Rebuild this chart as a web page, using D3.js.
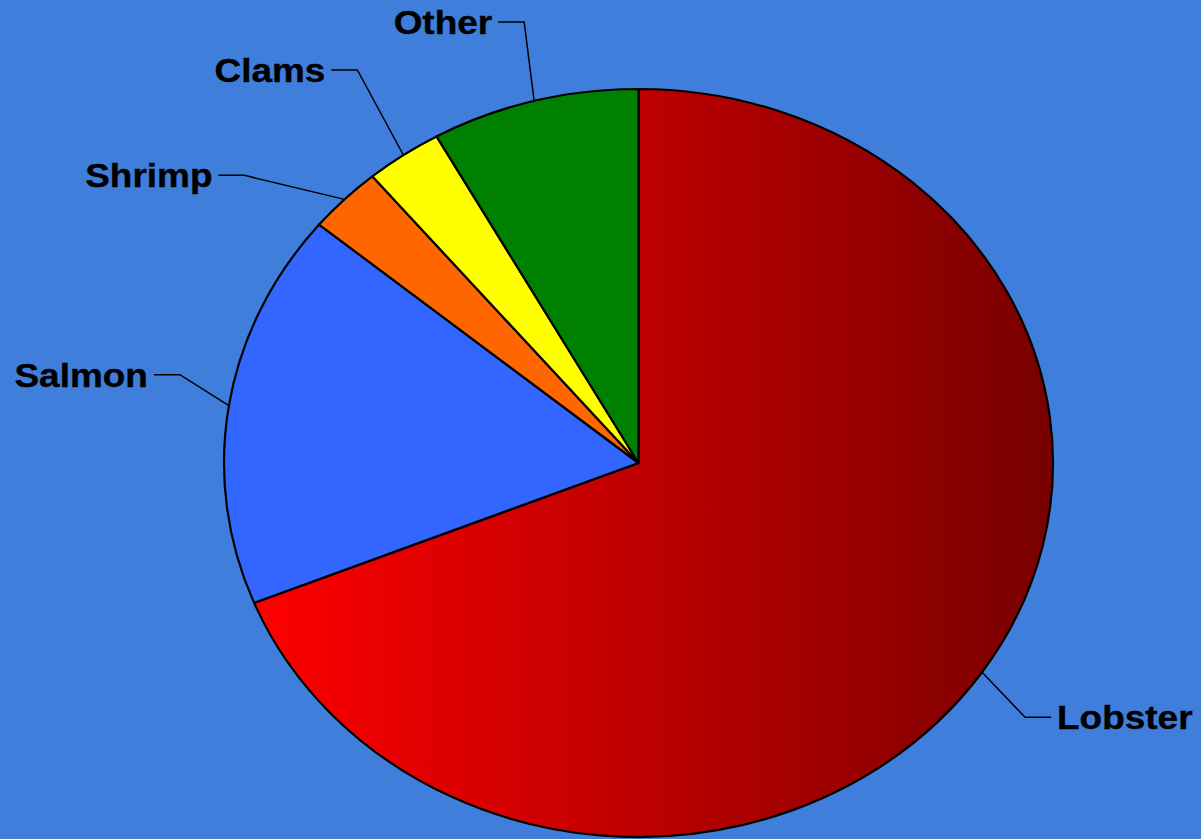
<!DOCTYPE html>
<html>
<head>
<meta charset="utf-8">
<script src="https://cdn.jsdelivr.net/npm/d3@7"></script>
<style>
  html, body { margin: 0; padding: 0; background: #3f7fdb; }
  svg { display: block; }
  .label { font-family: "Liberation Sans", Arial, sans-serif; font-weight: bold; font-size: 33px; fill: #000; stroke: #000; stroke-width: 0.4px; }
</style>
</head>
<body>
<svg id="chart" width="1201" height="839"></svg>
<script>
// chart data
const categories = ["Lobster", "Salmon", "Shrimp", "Clams", "Other"];
const shares = [68.9, 17.1, 2.9, 3.0, 8.1];
const sliceColors = ["url(#lobsterGrad)", "#3366ff", "#ff6600", "#ffff00", "#008000"];

// where each leader line bends, relative to the slice edge point
const elbowOffsets = [[43, 45], [-49, -31], [-100, -24], [-46, -85], [-10, -79]];

const width = 1201, height = 839;
const cx = 638.5, cy = 463;
const rx = 414.5, ry = 374;

const svg = d3.select("#chart");

svg.append("rect").attr("width", width).attr("height", height).attr("fill", "#3f7fdb");

let defs = svg.append("defs");
let grad = defs.append("linearGradient")
    .attr("id", "lobsterGrad")
    .attr("x1", "0%").attr("x2", "100%")
    .attr("y1", "0%").attr("y2", "0%");
grad.append("stop").attr("offset", "0%").attr("stop-color", "#ff0000");
grad.append("stop").attr("offset", "100%").attr("stop-color", "#780000");

let pie = d3.pie().sort(null).value(d => d.value);
let slices = pie(categories.map((c, i) => ({name: c, value: shares[i], color: sliceColors[i]})));

let arc = d3.arc().innerRadius(0).outerRadius(ry);

// pie is a circle of radius ry stretched to an ellipse
let pieG = svg.append("g")
    .attr("transform", "translate(" + cx + "," + cy + ") scale(" + (rx / ry) + ",1)");

pieG.selectAll("path")
    .data(slices)
    .join("path")
    .attr("d", arc)
    .attr("fill", d => d.data.color)
    .attr("stroke", "#000")
    .attr("stroke-width", 2.2)
    .attr("stroke-linejoin", "round")
    .attr("vector-effect", "non-scaling-stroke");

// point on the ellipse edge at slice mid angle
function edgePoint(d) {
    let a = (d.startAngle + d.endAngle) / 2;
    return [cx + rx * Math.sin(a), cy - ry * Math.cos(a)];
}

let tickLen = 26, gap = 6;

let labels = svg.append("g");
slices.forEach((d, i) => {
    let p = edgePoint(d);
    let e = [p[0] + elbowOffsets[i][0], p[1] + elbowOffsets[i][1]];
    let dir = e[0] >= cx ? 1 : -1;
    let end = [e[0] + dir * tickLen, e[1]];

    labels.append("polyline")
        .attr("points", [p, e, end].map(q => q.join(",")).join(" "))
        .attr("fill", "none")
        .attr("stroke", "#000")
        .attr("stroke-width", 1.5);

    let tx = end[0] + dir * gap;
    labels.append("text")
        .attr("class", "label")
        .attr("transform", "translate(" + tx + "," + (end[1] + 12) + ") scale(1.12,1)")
        .attr("text-anchor", dir > 0 ? "start" : "end")
        .text(d.data.name);
});
</script>
</body>
</html>
